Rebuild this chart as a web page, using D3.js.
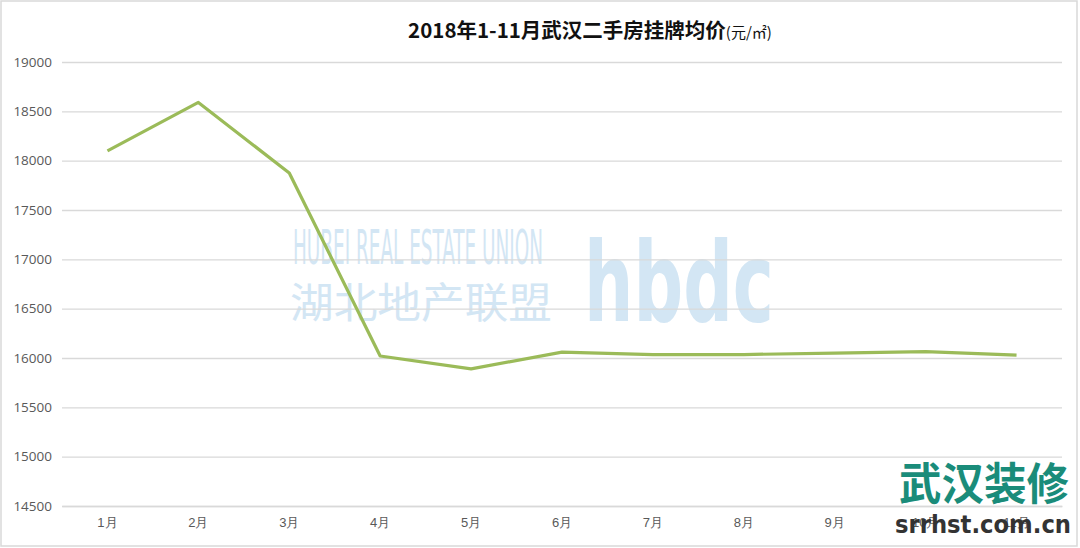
<!DOCTYPE html>
<html>
<head>
<meta charset="utf-8">
<script src="https://cdn.jsdelivr.net/npm/d3@7/dist/d3.min.js"></script>
<style>
  body { margin: 0; background: #fff; }
  svg { display: block; font-family: "Noto Sans CJK SC", "Open Sans", sans-serif; }
</style>
</head>
<body>
<svg id="chart" width="1080" height="548"></svg>
<script>
// Monatsnamen und Werte (元/㎡)
const months = ['1月', '2月', '3月', '4月', '5月', '6月', '7月', '8月', '9月', '10月', '11月'];
const prices = [18100, 18590, 17875, 16020, 15890, 16060, 16035, 16035, 16050, 16065, 16030];
const yTicks = [14500, 15000, 15500, 16000, 16500, 17000, 17500, 18000, 18500, 19000];

const svg = d3.select('#chart');
const W = 1080, H = 548;
const plotLeft = 62, plotRight = 1062, plotTop = 62, plotBottom = 506;

// Rahmen
svg.append('rect')
  .attr('x', 1).attr('y', 1).attr('width', W - 4).attr('height', H - 3)
  .attr('fill', '#fff').attr('stroke', '#d9d9d9').attr('stroke-width', 1.5);

const x = d3.scaleBand().domain(months).range([plotLeft, plotRight]);
const y = d3.scaleLinear().domain([14500, 19000]).range([plotBottom, plotTop]);

// Wasserzeichen
const wm = svg.append('g').attr('fill', '#d3e6f4');
wm.append('text')
  .attr('x', 293).attr('y', 264)
  .attr('font-family', '"Liberation Sans Narrow", "DejaVu Sans Condensed", sans-serif')
  .attr('font-size', 48)
  .attr('textLength', 250).attr('lengthAdjust', 'spacingAndGlyphs')
  .text('HUBEI REAL ESTATE UNION');
wm.append('text')
  .attr('x', 290).attr('y', 318)
  .attr('font-size', 42)
  .attr('textLength', 262).attr('lengthAdjust', 'spacingAndGlyphs')
  .text('湖北地产联盟');
wm.append('text')
  .attr('x', 584).attr('y', 321)
  .attr('font-family', '"DejaVu Sans Condensed", sans-serif')
  .attr('font-weight', 'bold')
  .attr('font-size', 110)
  .attr('textLength', 190).attr('lengthAdjust', 'spacingAndGlyphs')
  .text('hbdc');

// Gitterlinien und Y-Achse
const yAxis = d3.axisLeft(y).tickValues(yTicks).tickFormat(d3.format('d'))
  .tickSize(-(plotRight - plotLeft)).tickPadding(10);
const gy = svg.append('g').attr('transform', `translate(${plotLeft},0)`).call(yAxis);
gy.select('.domain').remove();
gy.selectAll('.tick line').attr('stroke', '#d9d9d9').attr('stroke-width', 1.3);
gy.selectAll('.tick text')
  .attr('fill', '#595959').attr('font-size', 13.5)
  .attr('font-family', '"Open Sans", sans-serif');

// X-Achse
const xAxis = d3.axisBottom(x).tickSize(0).tickPadding(12);
const gx = svg.append('g').attr('transform', `translate(0,${plotBottom})`).call(xAxis);
gx.select('.domain').attr('stroke', '#d9d9d9').attr('stroke-width', 1.3);
gx.selectAll('.tick text').attr('fill', '#595959').attr('font-size', 13);

// Linie
const line = d3.line()
  .x((d, i) => x(months[i]) + x.bandwidth() / 2)
  .y(d => y(d));
svg.append('path')
  .datum(prices)
  .attr('d', line)
  .attr('fill', 'none')
  .attr('stroke', '#9bbb59')
  .attr('stroke-width', 3.2)
  .attr('stroke-linejoin', 'round');

// Titel
const title = svg.append('text')
  .attr('x', 590).attr('y', 38)
  .attr('text-anchor', 'middle')
  .attr('fill', '#111');
title.append('tspan').attr('font-size', 20.5).attr('font-weight', 'bold').text('2018年1-11月武汉二手房挂牌均价');
title.append('tspan').attr('font-size', 15).text('(元/㎡)');

// Logo unten rechts
svg.append('text')
  .attr('x', 984).attr('y', 500)
  .attr('text-anchor', 'middle')
  .attr('fill', '#1a8c7a')
  .attr('font-size', 44).attr('font-weight', 'bold')
  .attr('textLength', 170).attr('lengthAdjust', 'spacingAndGlyphs')
  .text('武汉装修');
svg.append('text')
  .attr('x', 983).attr('y', 533)
  .attr('text-anchor', 'middle')
  .attr('fill', '#333')
  .attr('font-family', '"DejaVu Sans", sans-serif')
  .attr('font-size', 25).attr('font-weight', 'bold')
  .attr('textLength', 176).attr('lengthAdjust', 'spacingAndGlyphs')
  .text('srrhst.com.cn');
</script>
</body>
</html>
